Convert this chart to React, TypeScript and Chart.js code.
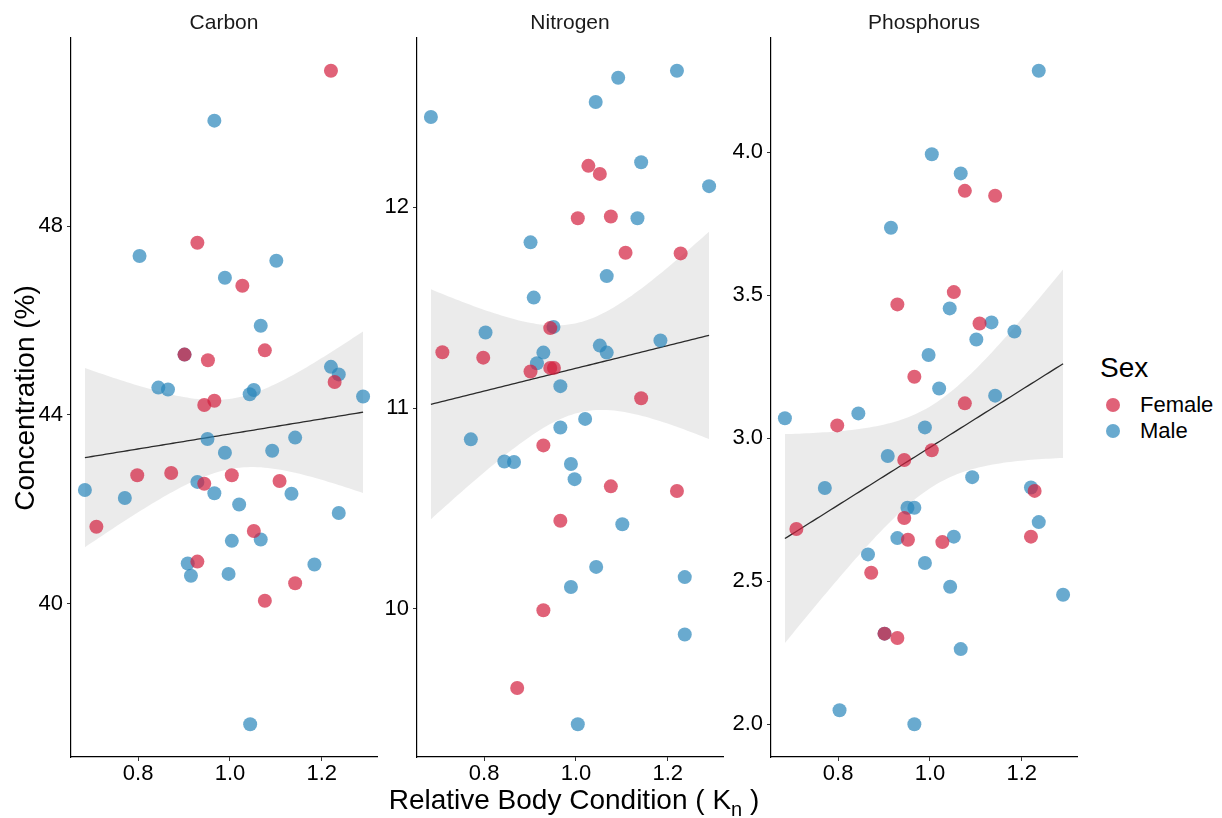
import React, { useEffect, useRef } from "react";
import { Chart, registerables } from "chart.js";

Chart.register(...registerables);

// ---- Data ----
const FEMALE_K = [0.709, 0.798, 0.872, 0.901, 0.929, 0.929, 0.944, 0.944, 0.952, 0.966, 1.004, 1.027, 1.052, 1.076, 1.076, 1.108, 1.142, 1.220, 1.228];
const MALE_K = [0.684, 0.771, 0.803, 0.844, 0.865, 0.901, 0.908, 0.915, 0.929, 0.951, 0.966, 0.966, 0.989, 0.989, 0.997, 1.004, 1.020, 1.043, 1.044, 1.052, 1.067, 1.067, 1.092, 1.101, 1.134, 1.142, 1.184, 1.220, 1.237, 1.237, 1.290];

const CARBON_F = [41.63, 42.72, 42.77, 45.28, 47.65, 40.89, 44.21, 42.54, 45.16, 44.30, 42.72, 46.74, 41.54, 45.37, 40.06, 42.60, 40.43, 51.30, 44.70];
const CARBON_M = [42.41, 42.24, 47.37, 44.58, 44.54, 45.28, 40.85, 40.59, 42.58, 43.49, 50.24, 42.34, 46.91, 43.20, 40.63, 41.33, 42.10, 44.44, 37.44, 44.53, 45.89, 41.36, 43.24, 47.27, 42.33, 43.52, 40.83, 45.02, 44.86, 41.92, 44.39];

const NITROGEN_F = [11.278, 11.251, 9.606, 11.182, 10.814, 9.993, 11.398, 11.2, 11.2, 10.439, 11.945, 12.206, 12.166, 11.954, 10.61, 11.773, 11.049, 10.587, 11.77];
const NITROGEN_M = [12.449, 10.844, 11.376, 10.734, 10.731, 11.825, 11.55, 11.223, 11.276, 11.404, 11.109, 10.903, 10.721, 10.109, 10.646, 9.425, 10.946, 12.524, 10.209, 11.311, 11.657, 11.276, 12.645, 10.421, 11.945, 12.224, 11.336, 12.68, 10.158, 9.872, 12.105];

const PHOS_F = [2.683, 3.045, 2.53, 2.317, 3.468, 2.302, 2.924, 2.721, 2.645, 3.215, 2.958, 2.637, 3.511, 3.865, 3.122, 3.401, 3.848, 2.656, 2.816];
const PHOS_M = [3.07, 2.826, 2.049, 3.087, 2.594, 2.317, 2.938, 3.736, 2.651, 2.757, 2.757, 2.0, 3.038, 2.564, 3.291, 3.993, 3.174, 3.454, 2.481, 2.656, 3.926, 2.263, 2.864, 3.345, 3.405, 3.149, 3.373, 2.828, 4.285, 2.707, 2.453];

const K_TICKS = [0.8, 1.0, 1.2];
const CARBON_TICKS = [40, 44, 48];
const NITROGEN_TICKS = [10, 11, 12];
const PHOS_TICKS = [2.0, 2.5, 3.0, 3.5, 4.0];

const PANEL_TITLES = ["Carbon", "Nitrogen", "Phosphorus"];
const SEX_LABELS = ["Female", "Male"];
const Y_TITLE = "Concentration (%)";

// ---- Styles ----
const FONT = "'Liberation Sans', Arial, Helvetica, sans-serif";
const FEMALE_COLOR = "rgba(211, 32, 63, 0.7)";
const MALE_COLOR = "rgba(42, 134, 186, 0.7)";
const BAND_COLOR = "rgba(153, 153, 153, 0.2)";

const PLOT_TOP = 38;
const PLOT_H = 719;
const PLOT_W = 306;
const PLOT_LEFTS = [71, 417, 771];
const Y_AXIS_W = 60;
const X_AXIS_H = 40;
const PAD_TOP = 30;
const PAD_RIGHT = 10;

function expandRange(vals: number[]) {
  const mn = Math.min(...vals);
  const mx = Math.max(...vals);
  const r = mx - mn;
  return [mn - 0.05 * r, mx + 0.05 * r];
}

function lmFit(xs: number[], ys: number[]) {
  const n = xs.length;
  const xbar = xs.reduce((a, b) => a + b, 0) / n;
  const ybar = ys.reduce((a, b) => a + b, 0) / n;
  let sxx = 0, sxy = 0;
  for (let i = 0; i < n; i++) {
    sxx += (xs[i] - xbar) ** 2;
    sxy += (xs[i] - xbar) * (ys[i] - ybar);
  }
  const b = sxy / sxx;
  const a = ybar - b * xbar;
  let sse = 0;
  for (let i = 0; i < n; i++) sse += (ys[i] - a - b * xs[i]) ** 2;
  const s2 = sse / (n - 2);
  const t = 2.0106;
  const lo = Math.min(...xs);
  const hi = Math.max(...xs);
  const line: { x: number; y: number }[] = [];
  const upper: { x: number; y: number }[] = [];
  const lower: { x: number; y: number }[] = [];
  const N = 80;
  for (let i = 0; i < N; i++) {
    const x = lo + ((hi - lo) * i) / (N - 1);
    const yh = a + b * x;
    const se = Math.sqrt(s2 * (1 / n + (x - xbar) ** 2 / sxx));
    line.push({ x, y: yh });
    upper.push({ x, y: yh + t * se });
    lower.push({ x, y: yh - t * se });
  }
  return { line, upper, lower };
}

type PanelProps = {
  left: number;
  females: number[];
  males: number[];
  yTicks: number[];
  yDecimals: number;
};

function Panel({ left, females, males, yTicks, yDecimals }: PanelProps) {
  const ref = useRef<HTMLCanvasElement | null>(null);
  const cw = Y_AXIS_W + PLOT_W + PAD_RIGHT;
  const ch = PAD_TOP + PLOT_H + X_AXIS_H;

  useEffect(() => {
    if (!ref.current) return;
    const allX = [...FEMALE_K, ...MALE_K];
    const allY = [...females, ...males];
    const [xmin, xmax] = expandRange(allX);
    const [ymin, ymax] = expandRange(allY);
    const fit = lmFit(allX, allY);
    const fPts = FEMALE_K.map((x, i) => ({ x, y: females[i] }));
    const mPts = MALE_K.map((x, i) => ({ x, y: males[i] }));
    const tickFont = { family: FONT, size: 22, lineHeight: 1 };

    const chart = new Chart(ref.current, {
      type: "line",
      data: {
        datasets: [
          {
            data: fit.upper,
            borderWidth: 0,
            borderColor: "rgba(0,0,0,0)",
            pointRadius: 0,
            fill: false,
            backgroundColor: BAND_COLOR,
            order: 5,
          },
          {
            data: fit.lower,
            borderWidth: 0,
            borderColor: "rgba(0,0,0,0)",
            pointRadius: 0,
            fill: "-1",
            backgroundColor: BAND_COLOR,
            order: 4,
          },
          {
            data: fit.line,
            borderWidth: 1.3,
            borderColor: "#2b2b2b",
            pointRadius: 0,
            fill: false,
            order: 3,
          },
          {
            data: mPts,
            showLine: false,
            pointRadius: 7,
            pointBorderWidth: 0,
            pointBackgroundColor: MALE_COLOR,
            borderColor: MALE_COLOR,
            order: 2,
          },
          {
            data: fPts,
            showLine: false,
            pointRadius: 7,
            pointBorderWidth: 0,
            pointBackgroundColor: FEMALE_COLOR,
            borderColor: FEMALE_COLOR,
            order: 1,
          },
        ],
      },
      options: {
        animation: false,
        responsive: false,
        devicePixelRatio: 1,
        events: [],
        layout: { padding: { top: PAD_TOP, right: PAD_RIGHT, left: 0, bottom: 0 } },
        plugins: { legend: { display: false }, tooltip: { enabled: false }, title: { display: false } },
        scales: {
          x: {
            type: "linear",
            min: xmin,
            max: xmax,
            afterBuildTicks: (s: any) => {
              s.ticks = K_TICKS.map((v) => ({ value: v }));
            },
            afterFit: (s: any) => {
              s.height = X_AXIS_H;
            },
            grid: { display: true, drawOnChartArea: false, drawTicks: true, tickLength: 4, color: "#333", lineWidth: 1 },
            border: { display: true, color: "#000", width: 1.2 },
            ticks: {
              color: "#000",
              font: tickFont,
              padding: 2,
              maxRotation: 0,
              autoSkip: false,
              callback: (v: any) => Number(v).toFixed(1),
            },
          },
          y: {
            type: "linear",
            min: ymin,
            max: ymax,
            afterBuildTicks: (s: any) => {
              s.ticks = yTicks.map((v) => ({ value: v }));
            },
            afterFit: (s: any) => {
              s.width = Y_AXIS_W;
            },
            grid: { display: true, drawOnChartArea: false, drawTicks: true, tickLength: 4, color: "#333", lineWidth: 1 },
            border: { display: true, color: "#000", width: 1.2 },
            ticks: {
              color: "#000",
              font: tickFont,
              padding: 4,
              autoSkip: false,
              callback: (v: any) => Number(v).toFixed(yDecimals),
            },
          },
        },
      },
    } as any);
    return () => chart.destroy();
  }, []);

  return (
    <canvas
      ref={ref}
      width={cw}
      height={ch}
      style={{
        position: "absolute",
        left: left - Y_AXIS_W,
        top: PLOT_TOP - PAD_TOP,
        width: cw,
        height: ch,
      }}
    />
  );
}

export default function App() {
  const panels = [
    { females: CARBON_F, males: CARBON_M, yTicks: CARBON_TICKS, yDecimals: 0 },
    { females: NITROGEN_F, males: NITROGEN_M, yTicks: NITROGEN_TICKS, yDecimals: 0 },
    { females: PHOS_F, males: PHOS_M, yTicks: PHOS_TICKS, yDecimals: 1 },
  ];
  const centerY = PLOT_TOP + PLOT_H / 2;
  const xCenter = (PLOT_LEFTS[0] + PLOT_LEFTS[2] + PLOT_W) / 2;

  return (
    <div
      style={{
        position: "absolute",
        left: 0,
        top: 0,
        width: 1222,
        height: 818,
        background: "#fff",
        overflow: "hidden",
        fontFamily: FONT,
        color: "#000",
      }}
    >
      {panels.map((p, i) => (
        <Panel key={i} left={PLOT_LEFTS[i]} {...p} />
      ))}
      {PANEL_TITLES.map((t, i) => (
        <div
          key={t}
          style={{
            position: "absolute",
            left: PLOT_LEFTS[i],
            width: PLOT_W,
            top: 21 - 10.5,
            height: 21,
            lineHeight: "21px",
            fontSize: 21,
            textAlign: "center",
            color: "#1a1a1a",
            whiteSpace: "nowrap",
          }}
        >
          {t}
        </div>
      ))}
      <div
        style={{
          position: "absolute",
          left: 24.5 - 200,
          top: centerY - 14,
          width: 400,
          height: 28,
          lineHeight: "28px",
          fontSize: 28,
          textAlign: "center",
          transform: "rotate(-90deg)",
          transformOrigin: "50% 50%",
          whiteSpace: "nowrap",
        }}
      >
        {Y_TITLE}
      </div>
      <div
        style={{
          position: "absolute",
          left: xCenter - 300,
          top: 800 - 14,
          width: 600,
          height: 28,
          lineHeight: "28px",
          fontSize: 28,
          textAlign: "center",
          whiteSpace: "nowrap",
        }}
      >
        Relative Body Condition ( K
        <span style={{ fontSize: 20, position: "relative", top: 7 }}>n</span> )
      </div>
      <div
        style={{
          position: "absolute",
          left: 1100,
          top: 368 - 14,
          height: 28,
          lineHeight: "28px",
          fontSize: 28,
          whiteSpace: "nowrap",
        }}
      >
        Sex
      </div>
      {SEX_LABELS.map((lab, i) => {
        const cy = 405 + i * 26;
        return (
          <React.Fragment key={lab}>
            <div
              style={{
                position: "absolute",
                left: 1113 - 7,
                top: cy - 7,
                width: 14,
                height: 14,
                borderRadius: "50%",
                background: i === 0 ? FEMALE_COLOR : MALE_COLOR,
              }}
            />
            <div
              style={{
                position: "absolute",
                left: 1140,
                top: cy - 11,
                height: 22,
                lineHeight: "22px",
                fontSize: 22,
                whiteSpace: "nowrap",
              }}
            >
              {lab}
            </div>
          </React.Fragment>
        );
      })}
    </div>
  );
}
